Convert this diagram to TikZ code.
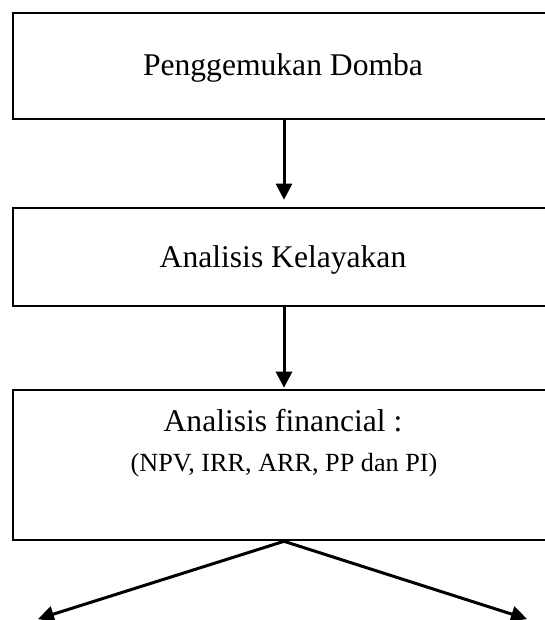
\documentclass[tikz,border=0pt]{standalone}
\usepackage{fontspec}
\setmainfont{Liberation Serif}
\usetikzlibrary{arrows.meta,calc}

\begin{document}
\begin{tikzpicture}[x=1pt, y=-1pt,
  kotak/.style={draw, line width=2.6pt, minimum width=542pt, inner sep=0pt},
  teks/.style={anchor=base, inner sep=0pt, font=\fontsize{31.6}{41}\selectfont},
  panah/.style={line width=3pt, -{Triangle[length=16pt,width=16pt]}}]
  \useasboundingbox (0,0) rectangle (545,620);
  % kotak
  \node[kotak, minimum height=106pt] (domba) at (284,66) {};
  \node[kotak, minimum height=98pt] (kelayakan) at (284,257) {};
  \node[kotak, minimum height=150pt] (finansial) at (284,465) {};
  % teks
  \node[teks] (t1) at (283,76) {Penggemukan Domba};
  \node[teks] (t2) at (283,267) {Analisis Kelayakan};
  \node[teks] (t3) at (283,431) {Analisis financial :};
  \node[teks, font=\fontsize{26.2}{34}\selectfont] (t4) at (284,471) {(NPV, IRR, ARR, PP dan PI)};
  % ujung panah
  \coordinate (kiri) at (38,619);
  \coordinate (kanan) at (527,619);
  % panah
  \draw[panah, shorten >=7pt] (domba.south) -- (kelayakan.north);
  \draw[panah, shorten >=1pt] (kelayakan.south) -- (finansial.north);
  \draw[panah] (finansial.south) -- (kiri);
  \draw[panah] (finansial.south) -- (kanan);
\end{tikzpicture}
\end{document}
